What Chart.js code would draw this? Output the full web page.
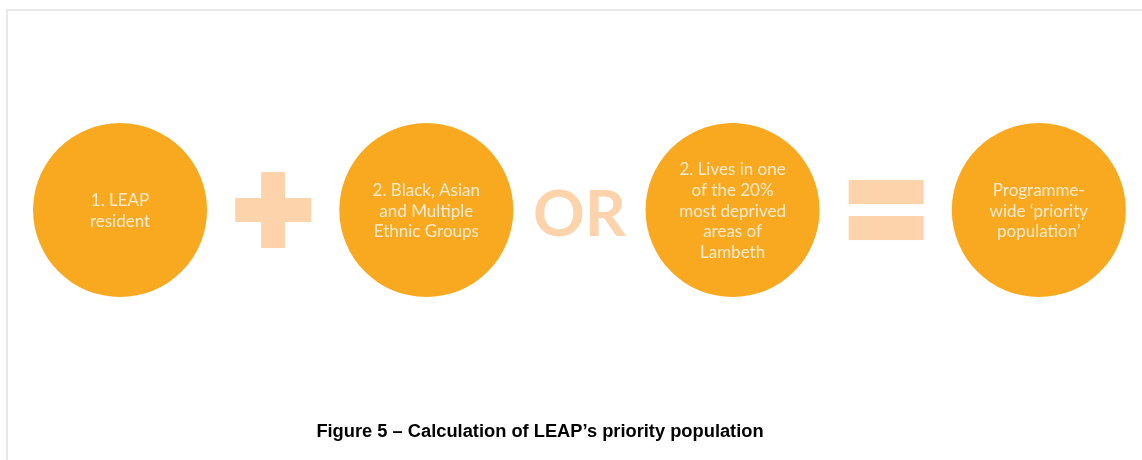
<!DOCTYPE html>
<html>
<head>
<meta charset="utf-8">
<script src="https://cdn.jsdelivr.net/npm/chart.js@4.4.0/dist/chart.umd.min.js"></script>
<style>
  body { margin: 0; background: #fff; }
  #wrap { position: relative; width: 1142px; height: 460px; overflow: hidden; }
  #frame { position: absolute; left: 6px; top: 9px; right: 0; bottom: -10px; border-top: 2px solid #e8e8e8; border-left: 2px solid #e8e8e8; }
  #box { position: absolute; left: 0; top: 0; width: 1142px; height: 460px; }
  #caption { position: absolute; left: 0; width: 1080px; top: 420px; text-align: center; font: bold 18.3px "Liberation Sans", Arial, sans-serif; color: #000; }
</style>
</head>
<body>
<div id="wrap">
  <div id="frame"></div>
  <div id="box"><canvas id="diagram"></canvas></div>
  <div id="caption">Figure 5 – Calculation of LEAP’s priority population</div>
</div>
<script>
// the four circles, one label per circle (split into its lines)
const categories = [
  ['1. LEAP', 'resident'],
  ['2. Black, Asian', 'and Multiple', 'Ethnic Groups'],
  ['2. Lives in one', 'of the 20%', 'most deprived', 'areas of', 'Lambeth'],
  ['Programme-', 'wide ‘priority', 'population’']
];
// the signs that sit between the circles
const operators = ['+', 'OR', '='];

const circleColor = '#f8a91f';
const textColor = '#fdebcf';
const opColor = '#fcd3ab';

const diagramText = {
  id: 'diagramText',
  afterDatasetsDraw(chart) {
    const ctx = chart.ctx;
    const xs = chart.scales.x;
    const cy = chart.scales.y.getPixelForValue(0);
    ctx.save();
    ctx.textAlign = 'center';
    ctx.textBaseline = 'middle';
    ctx.fillStyle = textColor;
    ctx.font = '17px Lato';
    categories.forEach((lines, i) => {
      const cx = xs.getPixelForValue(i);
      lines.forEach((line, j) => {
        ctx.fillText(line, cx, cy + 1 + (j - (lines.length - 1) / 2) * 20.8);
      });
    });
    ctx.fillStyle = opColor;
    operators.forEach((op, i) => {
      const cx = xs.getPixelForValue(i + 0.5);
      if (op === '+') {
        ctx.fillRect(cx - 12, cy - 38, 24, 76);
        ctx.fillRect(cx - 38, cy - 12, 76, 24);
      } else if (op === '=') {
        ctx.fillRect(cx - 37, cy - 30, 75, 24);
        ctx.fillRect(cx - 37, cy + 6, 75, 24);
      } else {
        ctx.font = 'bold 64px Lato';
        ctx.textBaseline = 'alphabetic';
        ctx.fillText(op, cx, cy + 26);
      }
    });
    ctx.restore();
  }
};

new Chart(document.getElementById('diagram'), {
  type: 'scatter',
  data: {
    labels: categories.map(c => c.join(' ')),
    datasets: [{
      data: categories.map((c, i) => ({ x: i, y: 0 })),
      pointRadius: 87,
      pointHoverRadius: 87,
      backgroundColor: circleColor,
      borderColor: circleColor,
      borderWidth: 0
    }]
  },
  options: {
    responsive: true,
    maintainAspectRatio: false,
    animation: false,
    events: [],
    clip: false,
    layout: { padding: 0, autoPadding: false },
    plugins: { legend: { display: false }, tooltip: { enabled: false } },
    scales: {
      x: { type: 'linear', display: false, min: -0.392, max: 3.337 },
      y: { type: 'linear', display: false, min: -1.19, max: 1 }
    }
  },
  plugins: [diagramText]
});
</script>
</body>
</html>
